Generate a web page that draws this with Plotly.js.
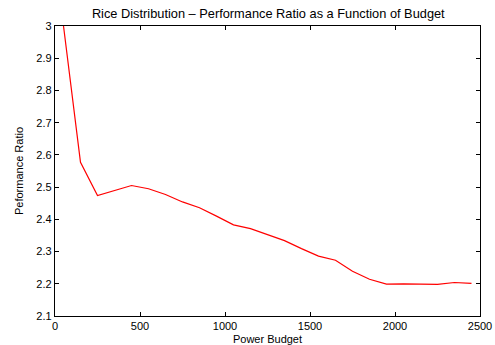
<!DOCTYPE html>
<html>
<head>
<meta charset="utf-8">
<script src="https://cdn.plot.ly/plotly-3.0.1.min.js"></script>
<style>html,body{margin:0;padding:0;background:#fff;}#chart{width:495px;height:345px;}</style>
</head>
<body>
<div id="chart"></div>
<script>
const budget = [50,150,250,350,450,550,650,750,850,950,1050,1150,1250,1350,1450,1550,1650,1750,1850,1950,2050,2150,2250,2350,2450];
const ratio = [3.0,2.577,2.474,2.49,2.505,2.495,2.477,2.454,2.436,2.41,2.383,2.371,2.353,2.334,2.309,2.286,2.273,2.239,2.214,2.199,2.2,2.2,2.198,2.204,2.201];
const xTicks = [0,500,1000,1500,2000,2500];
const yTicks = [2.1,2.2,2.3,2.4,2.5,2.6,2.7,2.8,2.9,3];
const yTickText = ['2.1','2.2','2.3','2.4','2.5','2.6','2.7','2.8','2.9','3'];

const font = {family: 'Liberation Sans, Arial, sans-serif', size: 11, color: '#000'};
Plotly.newPlot('chart', [{
  x: budget, y: ratio, type: 'scatter', mode: 'lines',
  line: {color: '#ff0000', width: 1.2}, cliponaxis: true, hoverinfo: 'skip'
}], {
  width: 495, height: 345,
  margin: {l: 55, r: 15, t: 26, b: 29},
  paper_bgcolor: '#fff', plot_bgcolor: '#fff',
  font: font,
  showlegend: false,
  title: {text: 'Rice Distribution \u2013 Performance Ratio as a Function of Budget', font: {family: font.family, size: 12.8, color: '#000'}, x: 0.542, xanchor: 'center', y: 0.962, yanchor: 'middle'},
  xaxis: {
    range: [0, 2500], tickvals: xTicks, ticktext: xTicks.map(String),
    ticks: 'inside', ticklen: 4, tickwidth: 1, tickcolor: '#000',
    showline: true, linecolor: '#000', linewidth: 1.2, mirror: 'ticks',
    showgrid: false, zeroline: false,
    tickfont: {family: font.family, size: 11, color: '#000'},
    title: {text: 'Power Budget', font: {family: font.family, size: 11, color: '#000'}, standoff: 3}
  },
  yaxis: {
    range: [2.1, 3], tickvals: yTicks, ticktext: yTickText,
    ticks: 'inside', ticklen: 4, tickwidth: 1, tickcolor: '#000',
    showline: true, linecolor: '#000', linewidth: 1.2, mirror: 'ticks',
    showgrid: false, zeroline: false,
    tickfont: {family: font.family, size: 11, color: '#000'},
    title: {text: 'Peformance Ratio', font: {family: font.family, size: 11, color: '#000'}, standoff: 10}
  }
}, {staticPlot: true, displayModeBar: false});
</script>
</body>
</html>
